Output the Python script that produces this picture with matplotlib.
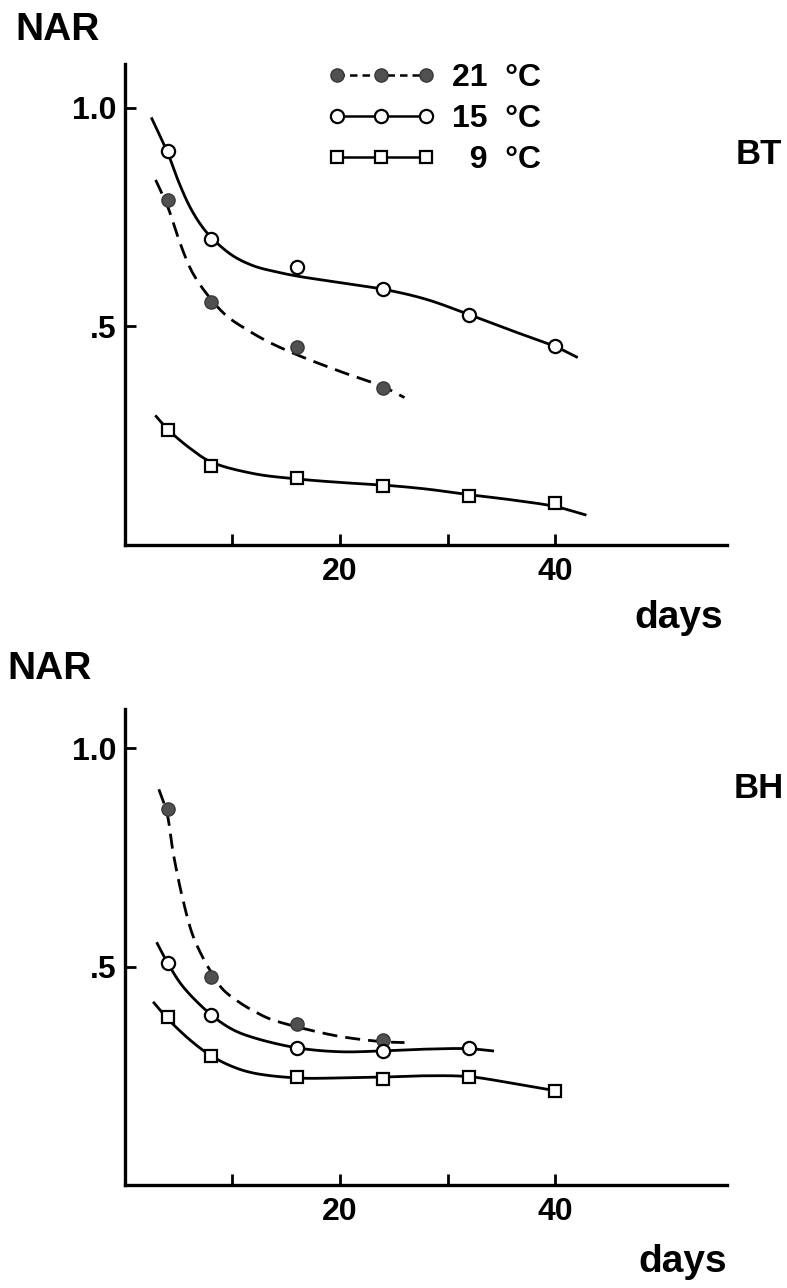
import numpy as np
import matplotlib
matplotlib.use("Agg")
from matplotlib import pyplot as plt
from matplotlib.lines import Line2D

plt.rcParams['font.family'] = ['Liberation Sans', 'DejaVu Sans']
plt.rcParams['font.weight'] = 'bold'

# measured points (days, NAR)
days = [4, 8, 16, 24, 32, 40]
bt_21 = [0.79, 0.555, 0.453, 0.36]
bt_15 = [0.90, 0.70, 0.635, 0.585, 0.526, 0.454]
bt_9 = [0.264, 0.18, 0.153, 0.134, 0.112, 0.096]
bh_21 = [0.86, 0.477, 0.369, 0.333]
bh_15 = [0.508, 0.39, 0.314, 0.307, 0.314]
bh_9 = [0.385, 0.296, 0.248, 0.243, 0.248, 0.216]

# hand-drawn fitted curves
bt_21_cx = [2.85, 4, 5.1, 6.3, 8, 9.5, 11.3, 13.3, 16, 20, 24, 26]
bt_21_cy = [0.835, 0.772, 0.692, 0.622, 0.562, 0.523, 0.493, 0.465, 0.435, 0.397, 0.362, 0.337]
bt_15_cx = [2.5, 4, 5, 6, 7, 8, 10, 12, 14, 16, 20, 24, 28, 32, 36, 40, 42]
bt_15_cy = [0.975, 0.895, 0.83, 0.775, 0.734, 0.704, 0.662, 0.638, 0.625, 0.615, 0.60, 0.585,
            0.562, 0.527, 0.49, 0.454, 0.43]
bt_9_cx = [2.9, 4, 6, 8, 12, 16, 20, 24, 28, 32, 36, 40, 42.8]
bt_9_cy = [0.294, 0.264, 0.222, 0.19, 0.163, 0.151, 0.143, 0.137, 0.128, 0.115, 0.103, 0.088, 0.069]
bh_21_cx = [3.15, 3.9, 4.5, 5.4, 6.3, 7.3, 8, 9.1, 10.7, 12.3, 13.5, 16, 20, 24, 26]
bh_21_cy = [0.906, 0.852, 0.758, 0.652, 0.572, 0.518, 0.488, 0.448, 0.417, 0.394, 0.38, 0.362,
            0.34, 0.328, 0.326]
bh_15_cx = [3.0, 4, 5.4, 8, 10, 12, 16, 20, 24, 28, 32, 34.2]
bh_15_cy = [0.553, 0.507, 0.454, 0.39, 0.356, 0.337, 0.314, 0.305, 0.307, 0.311, 0.312, 0.307]
bh_9_cx = [2.7, 4, 6, 8, 10, 12, 16, 20, 24, 28, 32, 36, 40]
bh_9_cy = [0.417, 0.38, 0.333, 0.296, 0.271, 0.256, 0.245, 0.245, 0.247, 0.25, 0.248, 0.233, 0.216]


def smooth(xs, ys, n=30, sx=10.75, sy=436.0):
    """Centripetal Catmull-Rom spline through the curve nodes."""
    pts = np.column_stack([np.asarray(xs) * sx, np.asarray(ys) * sy])
    p = np.vstack([2 * pts[0] - pts[1], pts, 2 * pts[-1] - pts[-2]])
    out = []
    for i in range(1, len(p) - 2):
        p0, p1, p2, p3 = p[i - 1], p[i], p[i + 1], p[i + 2]
        t0 = 0.0
        t1 = t0 + np.linalg.norm(p1 - p0) ** 0.5
        t2 = t1 + np.linalg.norm(p2 - p1) ** 0.5
        t3 = t2 + np.linalg.norm(p3 - p2) ** 0.5
        t = np.linspace(t1, t2, n, endpoint=False)[:, None]
        a1 = (t1 - t) / (t1 - t0) * p0 + (t - t0) / (t1 - t0) * p1
        a2 = (t2 - t) / (t2 - t1) * p1 + (t - t1) / (t2 - t1) * p2
        a3 = (t3 - t) / (t3 - t2) * p2 + (t - t2) / (t3 - t2) * p3
        b1 = (t2 - t) / (t2 - t0) * a1 + (t - t0) / (t2 - t0) * a2
        b2 = (t3 - t) / (t3 - t1) * a2 + (t - t1) / (t3 - t1) * a3
        out.append((t2 - t) / (t2 - t1) * b1 + (t - t1) / (t2 - t1) * b2)
    out.append(pts[-1:])
    s = np.vstack(out)
    return s[:, 0] / sx, s[:, 1] / sy


s21 = dict(marker='o', ms=9.5, mfc='#505050', mec='#383838', mew=1.0)
s15 = dict(marker='o', ms=9.5, mfc='white', mec='black', mew=1.6)
s9 = dict(marker='s', ms=8.5, mfc='white', mec='black', mew=1.6)


def panel(ax, d21, d15, d9, c21, c15, c9, ymax):
    ax.plot(*smooth(*c21), color='black', lw=2.0, ls=(0, (5.4, 2.9)))
    ax.plot(*smooth(*c15), color='black', lw=2.0)
    ax.plot(*smooth(*c9), color='black', lw=2.0)
    ax.plot(days[:len(d21)], d21, ls='none', zorder=4, **s21)
    ax.plot(days[:len(d15)], d15, ls='none', zorder=4, **s15)
    ax.plot(days[:len(d9)], d9, ls='none', zorder=4, **s9)
    ax.set_xlim(0, 56)
    ax.set_ylim(0, ymax)
    for sp in ['top', 'right']:
        ax.spines[sp].set_visible(False)
    for sp in ['left', 'bottom']:
        ax.spines[sp].set_linewidth(2.4)
    ax.set_xticks([10, 20, 30, 40])
    ax.set_xticklabels(['', '20', '', '40'])
    ax.set_yticks([0.5, 1.0])
    ax.set_yticklabels(['.5', '1.0'])
    ax.tick_params(direction='in', length=8, width=2, labelsize=23, pad=6)
    ax.tick_params(axis='x', pad=9)


fig = plt.figure(figsize=(7.87, 12.88), dpi=100)
ax1 = fig.add_axes([0.1588, 0.5769, 0.765, 0.3734])
ax2 = fig.add_axes([0.1588, 0.0800, 0.765, 0.3696])

panel(ax1, bt_21, bt_15, bt_9, (bt_21_cx, bt_21_cy), (bt_15_cx, bt_15_cy),
      (bt_9_cx, bt_9_cy), 1.10)
panel(ax2, bh_21, bh_15, bh_9, (bh_21_cx, bh_21_cy), (bh_15_cx, bh_15_cy),
      (bh_9_cx, bh_9_cy), 1.09)

handles = [
    Line2D([], [], color='black', lw=1.8, ls=(0, (3, 2)), **s21),
    Line2D([], [], color='black', lw=1.8, **s15),
    Line2D([], [], color='black', lw=1.8, **s9),
]
ax1.legend(handles, ['21  °C', '15  °C', '\u20079  °C'], numpoints=3, frameon=False,
           loc='upper left', bbox_to_anchor=(0.336, 1.0025), borderpad=0, borderaxespad=0,
           handlelength=3.39, handletextpad=0.5, labelspacing=0.345, fontsize=23)

fig.text(15 / 787, 1 - 30 / 1288, 'NAR', fontsize=28, ha='left', va='center')
fig.text(7 / 787, 1 - 669 / 1288, 'NAR', fontsize=28, ha='left', va='center')
fig.text(759 / 787, 1 - 154 / 1288, 'BT', fontsize=25, ha='center', va='center')
fig.text(759 / 787, 1 - 788 / 1288, 'BH', fontsize=25, ha='center', va='center')
fig.text(723 / 787, 1 - 628 / 1288, 'days', fontsize=28, ha='right', va='baseline')
fig.text(727 / 787, 1 - 1272 / 1288, 'days', fontsize=28, ha='right', va='baseline')

fig.savefig('out.png', dpi=100, facecolor='white')
